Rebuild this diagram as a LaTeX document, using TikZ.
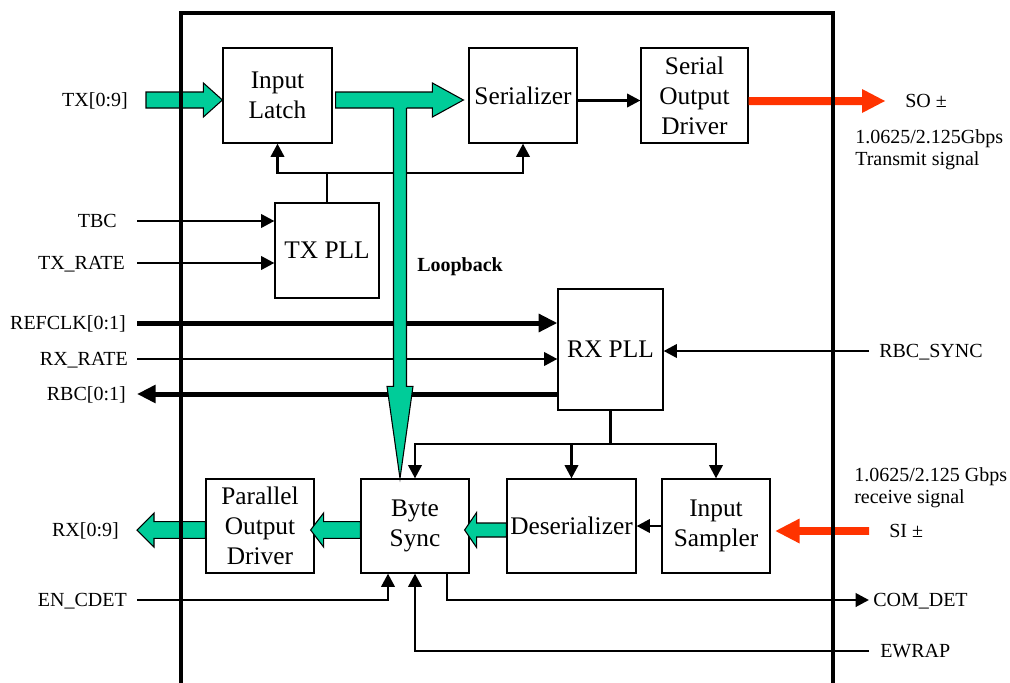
\documentclass[tikz,border=0pt]{standalone}
\usepackage{fontspec}
\setmainfont{Liberation Serif}
\usetikzlibrary{arrows.meta,calc}
\definecolor{fatgreen}{HTML}{00CC99}
\definecolor{sigred}{HTML}{FF3300}
% horizontal fat arrow: #1 style, #2 start, #3 tip, #4 shaft half width, #5 head half width, #6 head length (signed)
\newcommand\fatH[6]{%
  \filldraw[#1] ($(#2)+(0,{-(#4)})$) -- ($(#3)+({-(#6)},{-(#4)})$) -- ($(#3)+({-(#6)},{-(#5)})$) -- (#3)
    -- ($(#3)+({-(#6)},{#5})$) -- ($(#3)+({-(#6)},{#4})$) -- ($(#2)+(0,{#4})$) -- cycle;}
\begin{document}
\begin{tikzpicture}[x=0.75pt,y=-0.75pt,
  blk/.style={draw,line width=0.9pt,fill=white,inner sep=0pt,align=center,font=\fontsize{19}{22.5}\selectfont},
  sz/.style 2 args={minimum width=#1*0.75pt,minimum height=#2*0.75pt},
  lbl/.style={inner sep=0pt,text height=9.9pt,text depth=0pt,font=\fontsize{15}{16.5}\selectfont},
  thinln/.style={line width=2.1pt},
  thickln/.style={line width=3.75pt},
  tipA/.style={-{Triangle[length=10pt,width=10pt]}},
  tipB/.style={-{Triangle[length=14pt,width=13pt]}},
  fatg/.style={draw=black,line width=0.8pt,fill=fatgreen,line join=miter},
  fatr/.style={fill=sigred,draw=none},
  frame/.style={line width=2.3pt,line join=miter}]
\useasboundingbox (0,0) rectangle (1010,682);

% blocks
\node[blk,sz={109}{95}] (latch) at (277.5,95.5) {Input\\Latch};
\node[blk,sz={108}{95}] (ser) at (523,95.5) {Serializer};
\node[blk,sz={107}{95}] (sod) at (694.5,95.5) {Serial\\Output\\Driver};
\node[blk,sz={104}{95}] (txpll) at (327,250.5) {TX PLL};
\node[blk,sz={105}{121}] (rxpll) at (610.5,349.5) {RX PLL};
\node[blk,sz={108}{94}] (pod) at (260,526) {Parallel\\Output\\Driver};
\node[blk,sz={108}{94}] (bsync) at (415,526) {Byte\\Sync};
\node[blk,sz={129}{94}] (deser) at (571.5,526) {Deserializer};
\node[blk,sz={108}{94}] (insamp) at (716,526) {Input\\Sampler};

% left labels
\node[lbl,anchor=east] (txin) at (128,100) {TX[0:9]};
\node[lbl,anchor=east] (tbc) at (117,221) {TBC};
\node[lbl,anchor=east] (txrate) at (125,263) {TX\_RATE};
\node[lbl,anchor=east] (refclk) at (126,323) {REFCLK[0:1]};
\node[lbl,anchor=east] (rxrate) at (128,359) {RX\_RATE};
\node[lbl,anchor=east] (rbc) at (126,394) {RBC[0:1]};
\node[lbl,anchor=east] (rxout) at (119,530) {RX[0:9]};
\node[lbl,anchor=east] (encdet) at (127,600) {EN\_CDET};

% right labels
\node[lbl,anchor=west] (so) at (905,101) {SO ±};
\node[lbl,anchor=west] (txs1) at (855,137) {1.0625/2.125Gbps};
\node[lbl,anchor=west] (txs2) at (855,159) {Transmit signal};
\node[lbl,anchor=west] (rbcsync) at (879,351) {RBC\_SYNC};
\node[lbl,anchor=west] (rxs1) at (854,475) {1.0625/2.125 Gbps};
\node[lbl,anchor=west] (rxs2) at (854,497) {receive signal};
\node[lbl,anchor=west] (si) at (889,531) {SI ±};
\node[lbl,anchor=west] (comdet) at (873,600) {COM\_DET};
\node[lbl,anchor=west] (ewrap) at (880,651) {EWRAP};
\node[lbl,anchor=west,font=\bfseries\fontsize{15}{16.5}\selectfont] (loop) at (417,265) {Loopback};

\coordinate (L) at (137,0);
\coordinate (R) at (869,0);
\coordinate (clk) at (327,173);
\coordinate (rxd) at (610,444);

% thin / thick signal lines
\draw[thinln,tipA] (L|-tbc.east) -- (txpll.west|-tbc.east);
\draw[thinln,tipA] (L|-txrate.east) -- (txpll.west|-txrate.east);
\draw[thickln,tipB] (L|-refclk.east) -- (rxpll.west|-refclk.east);
\draw[thinln,tipA] (L|-rxrate.east) -- (rxpll.west|-rxrate.east);
\draw[thickln,tipB] (rxpll.west|-rbc.east) -- (L|-rbc.east);
\draw[thinln,tipA] (R|-rbcsync.west) -- (rxpll.east|-rbcsync.west);

\draw[thinln] (txpll.north) -- (txpll.north|-clk);
\draw[thinln,tipA] (txpll.north|-clk) -| (latch.south);
\draw[thinln,tipA] (txpll.north|-clk) -| (ser.south);
\draw[thinln,tipA] ($(ser.east)+(0,5)$) -- ($(sod.west)+(0,5)$);

\draw[thinln] (rxpll.south) -- (rxpll.south|-rxd);
\draw[thinln,tipA] (rxpll.south|-rxd) -| (bsync.north);
\draw[thinln,tipA] (rxpll.south|-rxd) -| (deser.north);
\draw[thinln,tipA] (rxpll.south|-rxd) -| (insamp.north);
\draw[thinln,tipA] (insamp.west) -- (deser.east);

\draw[thinln,tipA] (L|-encdet.east) -| ($(bsync.south)+(-27,0)$);
\draw[thinln,tipA] (R|-ewrap.west) -| (bsync.south);
\draw[thinln,tipA] ($(bsync.south)+(32,0)$) |- ($(comdet.west)+(-4,0)$);

% green data arrows
\coordinate (txS) at ($(txin.east)+(18,0)$);
\coordinate (txT) at (latch.west|-txS);
\fatH{fatg}{txS}{txT}{8}{17}{19}
\coordinate (lsS) at ($(latch.east|-txS)+(3,0)$);
\coordinate (lsT) at ($(ser.west|-txS)+(-5,0)$);
\fatH{fatg}{lsS}{lsT}{8}{17}{31}

% loopback (vertical)
\coordinate (lbT) at ($(bsync.north)+(-15,0)$);
\coordinate (lbS) at ($(lbT|-txS)+(0,8)$);
\fill[fatgreen] ($(lbS)+(-6.5,-0.8)$) -- ($(lbT)+(-6.5,-92)$) -- ($(lbT)+(-13,-92)$) -- (lbT)
  -- ($(lbT)+(13,-92)$) -- ($(lbT)+(6.5,-92)$) -- ($(lbS)+(6.5,-0.8)$) -- cycle;
\draw[line width=0.8pt,line join=miter] ($(lbS)+(-6.5,0)$) -- ($(lbT)+(-6.5,-92)$) -- ($(lbT)+(-13,-92)$) -- (lbT)
  -- ($(lbT)+(13,-92)$) -- ($(lbT)+(6.5,-92)$) -- ($(lbS)+(6.5,0)$);

\coordinate (bpS) at ($(bsync.west)+(0,4)$);
\coordinate (bpT) at ($(pod.east)+(-4,4)$);
\fatH{fatg}{bpS}{bpT}{8.3}{17}{-13}
\coordinate (rxS) at ($(pod.west)+(0,4)$);
\coordinate (rxT) at (L|-rxS);
\fatH{fatg}{rxS}{rxT}{8.3}{17}{-17}
\coordinate (dbS) at ($(deser.west)+(0,4)$);
\coordinate (dbT) at ($(bsync.east)+(-5,4)$);
\fatH{fatg}{dbS}{dbT}{7}{17.5}{-12}

% red serial arrows
\coordinate (soS) at ($(sod.east)+(0,5.5)$);
\coordinate (soT) at ($(so.west)+(-20,0)$);
\fatH{fatr}{soS}{soT}{4}{12}{23}
\coordinate (siS) at (R|-si.west);
\coordinate (siT) at ($(insamp.east|-si.west)+(5,0)$);
\fatH{fatr}{siS}{siT}{3.8}{12.5}{-24}

% chip frame
\draw[frame] (181,686) -- (181,13) -- (833,13) -- (833,686);
\end{tikzpicture}
\end{document}
